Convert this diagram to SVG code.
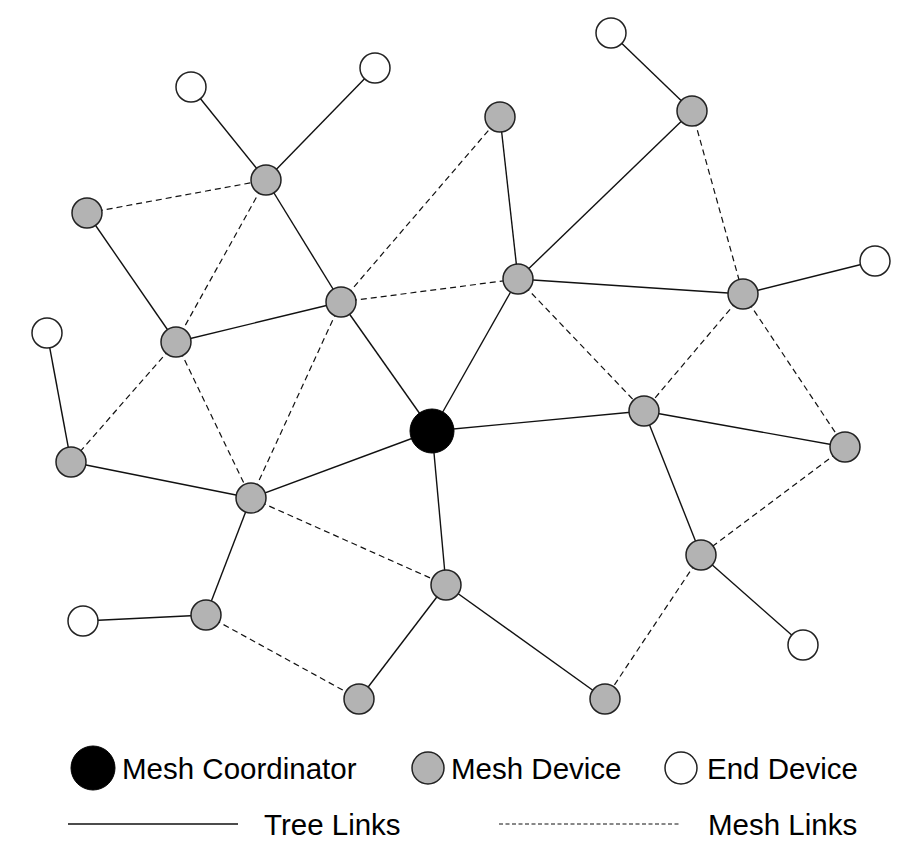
<svg xmlns="http://www.w3.org/2000/svg" width="917" height="849" viewBox="0 0 917 849">
<style>
.t{stroke:#111;stroke-width:1.4;fill:none}
.m{stroke:#111;stroke-width:1.2;fill:none;stroke-dasharray:6 4}
.g{fill:#b3b3b3;stroke:#222;stroke-width:1.5}
.w{fill:#fff;stroke:#222;stroke-width:1.5}
.c{fill:#000;stroke:#000;stroke-width:1}
.lbl{font-family:"Liberation Sans",Arial,sans-serif;font-size:29.5px;fill:#000}
</style>
<rect width="917" height="849" fill="#fff"/>
<g id="connectors">
<line class="t" x1="191" y1="87" x2="266" y2="180"/>
<line class="t" x1="375" y1="68" x2="266" y2="180"/>
<line class="t" x1="266" y1="180" x2="341" y2="302"/>
<line class="t" x1="87" y1="213" x2="176" y2="342"/>
<line class="t" x1="176" y1="342" x2="341" y2="302"/>
<line class="t" x1="341" y1="302" x2="432" y2="431"/>
<line class="t" x1="611" y1="33" x2="692" y2="111"/>
<line class="t" x1="692" y1="111" x2="518" y2="279"/>
<line class="t" x1="500" y1="117" x2="518" y2="279"/>
<line class="t" x1="518" y1="279" x2="432" y2="431"/>
<line class="t" x1="518" y1="279" x2="743" y2="294"/>
<line class="t" x1="743" y1="294" x2="875" y2="261"/>
<line class="t" x1="432" y1="431" x2="644" y2="411"/>
<line class="t" x1="644" y1="411" x2="845" y2="447"/>
<line class="t" x1="644" y1="411" x2="701" y2="555"/>
<line class="t" x1="701" y1="555" x2="803" y2="645"/>
<line class="t" x1="432" y1="431" x2="251" y2="498"/>
<line class="t" x1="251" y1="498" x2="71" y2="462"/>
<line class="t" x1="71" y1="462" x2="47" y2="333"/>
<line class="t" x1="251" y1="498" x2="206" y2="615"/>
<line class="t" x1="206" y1="615" x2="83" y2="621"/>
<line class="t" x1="432" y1="431" x2="446" y2="585"/>
<line class="t" x1="446" y1="585" x2="359" y2="699"/>
<line class="t" x1="446" y1="585" x2="605" y2="699"/>
<line class="m" x1="87" y1="213" x2="266" y2="180"/>
<line class="m" x1="266" y1="180" x2="176" y2="342"/>
<line class="m" x1="341" y1="302" x2="500" y2="117"/>
<line class="m" x1="341" y1="302" x2="518" y2="279"/>
<line class="m" x1="176" y1="342" x2="71" y2="462"/>
<line class="m" x1="176" y1="342" x2="251" y2="498"/>
<line class="m" x1="341" y1="302" x2="251" y2="498"/>
<line class="m" x1="251" y1="498" x2="446" y2="585"/>
<line class="m" x1="206" y1="615" x2="359" y2="699"/>
<line class="m" x1="692" y1="111" x2="743" y2="294"/>
<line class="m" x1="518" y1="279" x2="644" y2="411"/>
<line class="m" x1="743" y1="294" x2="644" y2="411"/>
<line class="m" x1="743" y1="294" x2="845" y2="447"/>
<line class="m" x1="845" y1="447" x2="701" y2="555"/>
<line class="m" x1="701" y1="555" x2="605" y2="699"/>
</g>
<g id="coordinator"><circle class="c" cx="432" cy="431" r="22"/></g>
<g id="n_A"><circle class="g" cx="266" cy="180" r="15"/></g>
<g id="n_B"><circle class="g" cx="87" cy="213" r="15"/></g>
<g id="n_C"><circle class="g" cx="500" cy="117" r="15"/></g>
<g id="n_D"><circle class="g" cx="692" cy="111" r="15"/></g>
<g id="n_E"><circle class="g" cx="341" cy="302" r="15"/></g>
<g id="n_F"><circle class="g" cx="518" cy="279" r="15"/></g>
<g id="n_G"><circle class="g" cx="743" cy="294" r="15"/></g>
<g id="n_H"><circle class="g" cx="176" cy="342" r="15"/></g>
<g id="n_I"><circle class="g" cx="644" cy="411" r="15"/></g>
<g id="n_J"><circle class="g" cx="845" cy="447" r="15"/></g>
<g id="n_K"><circle class="g" cx="71" cy="462" r="15"/></g>
<g id="n_L"><circle class="g" cx="251" cy="498" r="15"/></g>
<g id="n_M"><circle class="g" cx="701" cy="555" r="15"/></g>
<g id="n_N"><circle class="g" cx="446" cy="585" r="15"/></g>
<g id="n_O"><circle class="g" cx="206" cy="615" r="15"/></g>
<g id="n_P"><circle class="g" cx="359" cy="699" r="15"/></g>
<g id="n_Q"><circle class="g" cx="605" cy="699" r="15"/></g>
<g id="e_1"><circle class="w" cx="191" cy="87" r="15"/></g>
<g id="e_2"><circle class="w" cx="375" cy="68" r="15"/></g>
<g id="e_3"><circle class="w" cx="611" cy="33" r="15"/></g>
<g id="e_4"><circle class="w" cx="875" cy="261" r="15"/></g>
<g id="e_5"><circle class="w" cx="47" cy="333" r="15"/></g>
<g id="e_6"><circle class="w" cx="83" cy="621" r="15"/></g>
<g id="e_7"><circle class="w" cx="803" cy="645" r="15"/></g>
<g id="legend">
<circle class="c" cx="93" cy="768" r="22"/>
<text class="lbl" x="122" y="779">Mesh Coordinator</text>
<circle class="g" cx="428" cy="768" r="16"/>
<text class="lbl" x="451" y="779">Mesh Device</text>
<circle class="w" cx="681" cy="768" r="16"/>
<text class="lbl" x="707" y="779">End Device</text>
<line class="t" x1="68" y1="824" x2="238" y2="824"/>
<text class="lbl" x="264" y="835">Tree Links</text>
<line class="m" x1="499" y1="824" x2="679" y2="824" style="stroke-dasharray:4 2.5;stroke-width:1"/>
<text class="lbl" x="708" y="835">Mesh Links</text>
</g>
</svg>
